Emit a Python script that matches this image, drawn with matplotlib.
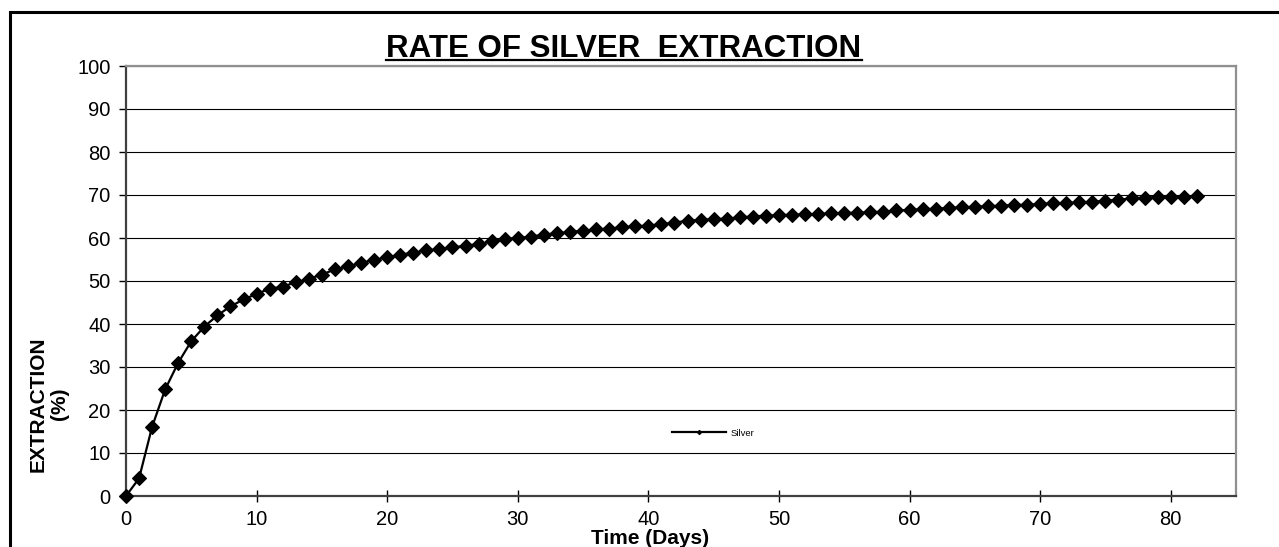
import matplotlib
matplotlib.use("Agg")
import matplotlib.pyplot as plt
from matplotlib import font_manager
from matplotlib.lines import Line2D
from matplotlib.patches import Rectangle

days = list(range(0, 83))
silver = [0.0, 4.1, 16.1, 24.8, 31.0, 36.0, 39.4, 42.0, 44.1, 45.7,
          47.0, 48.2, 48.7, 49.7, 50.5, 51.5, 52.7, 53.4, 54.2, 54.9,
          55.5, 56.1, 56.6, 57.1, 57.4, 57.8, 58.2, 58.6, 59.2, 59.8,
          60.0, 60.3, 60.8, 61.1, 61.4, 61.7, 62.0, 62.2, 62.5, 62.7,
          62.9, 63.2, 63.6, 64.0, 64.2, 64.4, 64.5, 64.8, 65.0, 65.2,
          65.3, 65.4, 65.5, 65.6, 65.7, 65.8, 65.9, 66.0, 66.1, 66.4,
          66.5, 66.7, 66.8, 67.0, 67.1, 67.3, 67.4, 67.5, 67.7, 67.7,
          67.9, 68.1, 68.1, 68.3, 68.4, 68.7, 68.9, 69.2, 69.4, 69.5,
          69.6, 69.6, 69.7]
x_ticks = [0, 10, 20, 30, 40, 50, 60, 70, 80]
y_ticks = [0, 10, 20, 30, 40, 50, 60, 70, 80, 90, 100]
title = "RATE OF SILVER  EXTRACTION"
x_label = "Time (Days)"
y_label = "EXTRACTION\n(%)"
series_name = "Silver"

names = {f.name for f in font_manager.fontManager.ttflist}
base = "Liberation Sans" if "Liberation Sans" in names else "DejaVu Sans"
narrow = "Liberation Sans Narrow" in names
plt.rcParams['font.family'] = [base, 'DejaVu Sans']

W, H = 1279, 547
fig = plt.figure(figsize=(W / 100, H / 100), dpi=100)
ax = fig.add_axes([126 / W, 1 - 496 / H, (1236 - 126) / W, (496 - 66) / H])

ax.plot(days, silver, color='black', lw=1.6, marker='D', ms=7.3, mew=0.8, mec='black',
        label=series_name, zorder=3, clip_on=False)

ax.set_xlim(0, 85)
ax.set_ylim(0, 100)
ax.set_xticks(x_ticks)
ax.set_yticks(y_ticks)
ax.grid(axis='y', color='black', lw=0.8)
ax.set_axisbelow(True)
ax.tick_params(axis='x', direction='inout', length=8.5, width=1, labelsize=14.5, pad=6, colors='black')
ax.tick_params(axis='y', direction='out', length=5, width=1, labelsize=14.5, pad=6, colors='black')
for s in ['left', 'bottom']:
    ax.spines[s].set_color('#404040')
    ax.spines[s].set_linewidth(1.6)
for s in ['top', 'right']:
    ax.spines[s].set_color('#909090')
    ax.spines[s].set_linewidth(1.6)

leg = ax.legend(loc='center', bbox_to_anchor=(0.529, 0.146), frameon=False,
                fontsize=6.8, markerscale=0.3, handlelength=5.7, handletextpad=0.55)

# title with underline
if narrow:
    t = fig.text(624 / W, 1 - 57 / H, title, family=['Liberation Sans Narrow', base],
                 fontsize=27, fontweight='bold', ha='center', va='baseline')
else:
    t = fig.text(624 / W, 1 - 57 / H, title, fontsize=22.5, fontweight='bold',
                 ha='center', va='baseline')
fig.canvas.draw()
bb = t.get_window_extent(fig.canvas.get_renderer())
fig.add_artist(Line2D([bb.x0 / W, bb.x1 / W], [1 - 60 / H, 1 - 60 / H],
                      transform=fig.transFigure, color='black', lw=1.6))

fig.text(650 / W, 3 / H, x_label, fontsize=15, fontweight='bold', ha='center', va='baseline')
fig.text(49 / W, 1 - 404 / H, y_label, fontsize=15, fontweight='bold', rotation=90,
         ha='center', va='center', multialignment='center', linespacing=1.15)

# outer chart border (cropped at right and bottom)
fig.add_artist(Rectangle((10 / W, -0.05), 1.2, 1 - 12 / H + 0.05, transform=fig.transFigure,
                         fill=False, edgecolor='black', lw=2.2))

fig.savefig("out.png", dpi=100)
